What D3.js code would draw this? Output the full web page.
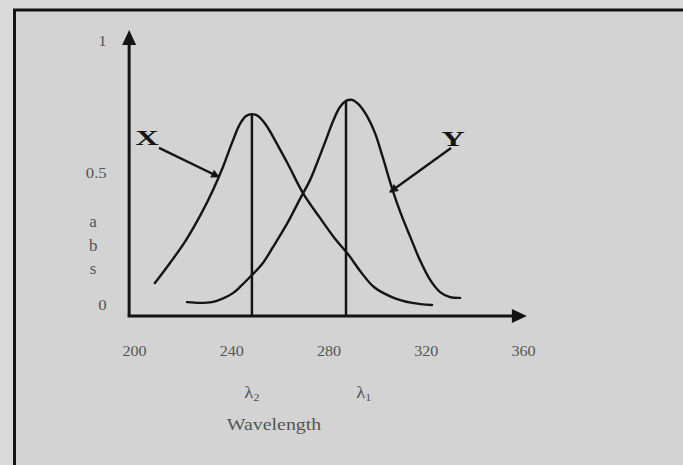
<!doctype html>
<html>
<head>
<meta charset="utf-8">
<title>Absorbance vs wavelength</title>
<style>
	body{ margin:0; background:#dadada; }
	svg{ display:block; }
	text{ font-family:"Liberation Serif","DejaVu Serif",serif; fill:#555; }
</style>
</head>
<body>
<svg id="chart" width="683" height="465"></svg>
<script src="https://cdn.jsdelivr.net/npm/d3@7/dist/d3.min.js"></script>
<script>
// curve X (left peak), wavelength in nm / absorbance
var xWave = [208.6, 214.8, 221.4, 227.6, 232.5, 236.6, 240.3, 243.6, 246.1, 248.5, 251.0, 254.3, 258.4, 263.3, 269.5, 276.5, 283.1, 288.0, 293.0, 298.7, 306.1, 314.4, 322.6];
var xAbs  = [0.083, 0.159, 0.246, 0.345, 0.436, 0.523, 0.614, 0.686, 0.716, 0.723, 0.716, 0.682, 0.617, 0.534, 0.424, 0.330, 0.246, 0.193, 0.129, 0.068, 0.030, 0.008, 0.0];
// curve Y (right peak)
var yWave = [221.8, 227.1, 232.1, 236.2, 240.7, 244.0, 247.7, 252.7, 257.2, 262.9, 268.3, 272.4, 275.3, 278.6, 281.9, 284.7, 287.2, 289.7, 292.6, 295.8, 299.1, 302.4, 306.1, 309.8, 313.5, 317.6, 321.8, 325.9, 330.0, 334.1];
var yAbs  = [0.011, 0.008, 0.011, 0.023, 0.045, 0.072, 0.106, 0.155, 0.220, 0.307, 0.402, 0.473, 0.538, 0.617, 0.697, 0.750, 0.773, 0.777, 0.758, 0.716, 0.652, 0.557, 0.443, 0.345, 0.261, 0.170, 0.095, 0.049, 0.030, 0.027];

var xTicks = [200, 240, 280, 320, 360];
var yTicks = [0, 0.5, 1];

// lambda max lines
var peakWave = [248.5, 287.2];
var peakAbs  = [0.723, 0.775];
var peakSub  = ["2", "1"];
var peakLabelWave = [248.5, 294.5];

// curve names and their pointer arrows [wave, abs]
var seriesNames = ["X", "Y"];
var nameAt   = [[205.3, 0.633], [331.2, 0.629]];
var arrowFrom = [[210.3, 0.595], [330.4, 0.595]];
var arrowTo   = [[235.0, 0.485], [305.3, 0.428]];

var svg = d3.select("#chart");
var ink = "#141414";

var x = d3.scaleLinear().domain([200, 360]).range([134, 523]);
var y = d3.scaleLinear().domain([0, 1]).range([305, 41]);
var xMin = 198, xMax = 361.6, yMin = -0.042, yMax = 1.042;

// frame
svg.append("rect").attr("x", 14.5).attr("y", 10).attr("width", 720).attr("height", 520)
	.attr("fill", "#d3d3d3").attr("stroke", ink).attr("stroke-width", 3);

function stretch(sel, k){
	sel.each(function(){
		var t = d3.select(this);
		var old = t.attr("transform") || "";
		t.attr("transform", old + " scale(" + k + ",1)");
	});
}

// axes lines with arrow heads
var ox = x(xMin), oy = y(yMin);
svg.append("line").attr("x1", ox).attr("y1", oy).attr("x2", ox).attr("y2", y(yMax) + 10)
	.attr("stroke", ink).attr("stroke-width", 3);
svg.append("line").attr("x1", ox - 1.5).attr("y1", oy).attr("x2", x(xMax) - 10).attr("y2", oy)
	.attr("stroke", ink).attr("stroke-width", 3);
svg.append("path").attr("fill", ink)
	.attr("d", "M" + ox + "," + y(yMax) + "L" + (ox - 7) + "," + (y(yMax) + 15) + "L" + (ox + 7) + "," + (y(yMax) + 15) + "Z");
svg.append("path").attr("fill", ink)
	.attr("d", "M" + x(xMax) + "," + oy + "L" + (x(xMax) - 15) + "," + (oy - 7) + "L" + (x(xMax) - 15) + "," + (oy + 7) + "Z");

// tick labels
var gx = svg.append("g").attr("transform", "translate(0," + oy + ")")
	.call(d3.axisBottom(x).tickValues(xTicks).tickSize(0).tickPadding(30));
gx.select(".domain").remove();
gx.selectAll("text").attr("font-size", 14).attr("font-family", null).attr("fill", "#555");
stretch(gx.selectAll("text"), 1.15);

var gy = svg.append("g").attr("transform", "translate(" + ox + ",0)")
	.call(d3.axisLeft(y).tickValues(yTicks).tickSize(0).tickPadding(20).tickFormat(function(d){ return d; }));
gy.select(".domain").remove();
gy.selectAll("text").attr("font-size", 15).attr("font-family", null).attr("fill", "#555");
stretch(gy.selectAll("text"), 1.12);

// axis titles
["a", "b", "s"].forEach(function(c, i){
	svg.append("text").attr("x", ox - 36).attr("y", 227 + i * 23.5)
		.attr("text-anchor", "middle").attr("font-size", 17).text(c);
});
var wl = svg.append("text").attr("transform", "translate(274,430)")
	.attr("text-anchor", "middle").attr("font-size", 17).text("Wavelength");
stretch(wl, 1.17);

// curves
var line = d3.line().curve(d3.curveCatmullRom.alpha(0.5))
	.x(function(d){ return x(d[0]); }).y(function(d){ return y(d[1]); });
[d3.zip(xWave, xAbs), d3.zip(yWave, yAbs)].forEach(function(pts){
	svg.append("path").datum(pts).attr("d", line)
		.attr("fill", "none").attr("stroke", ink).attr("stroke-width", 2.4)
		.attr("stroke-linecap", "round");
});

// lambda max lines and labels
peakWave.forEach(function(w, i){
	svg.append("line").attr("x1", x(w)).attr("x2", x(w)).attr("y1", oy).attr("y2", y(peakAbs[i]))
		.attr("stroke", ink).attr("stroke-width", 2.5);
	var t = svg.append("text").attr("transform", "translate(" + x(peakLabelWave[i]) + ",398)")
		.attr("text-anchor", "middle").attr("font-size", 17);
	t.append("tspan").text("\u03bb");
	t.append("tspan").attr("font-size", 11).attr("dy", 3).text(peakSub[i]);
	stretch(t, 1.1);
});

// arrow marker
svg.append("defs").append("marker").attr("id", "head")
	.attr("viewBox", "0 0 10 10").attr("refX", 9).attr("refY", 5)
	.attr("markerWidth", 4.2).attr("markerHeight", 3.6).attr("orient", "auto")
	.attr("markerUnits", "strokeWidth")
	.append("path").attr("d", "M0,0L10,5L0,10Z").attr("fill", ink);

seriesNames.forEach(function(n, i){
	svg.append("line")
		.attr("x1", x(arrowFrom[i][0])).attr("y1", y(arrowFrom[i][1]))
		.attr("x2", x(arrowTo[i][0])).attr("y2", y(arrowTo[i][1]))
		.attr("stroke", ink).attr("stroke-width", 2.4).attr("marker-end", "url(#head)");
	var t = svg.append("text")
		.attr("transform", "translate(" + x(nameAt[i][0]) + "," + (y(nameAt[i][1]) + 7) + ")")
		.attr("text-anchor", "middle").attr("font-size", 21).attr("font-weight", "bold")
		.style("fill", ink).text(n);
	stretch(t, 1.55);
});
</script>
</body>
</html>
